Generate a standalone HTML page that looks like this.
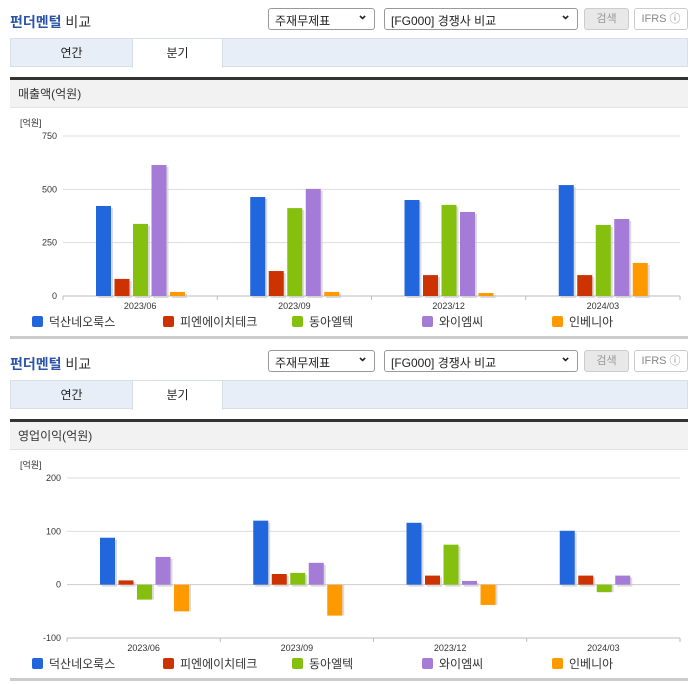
<!DOCTYPE html>
<html><head><meta charset="utf-8">
<style>
*{margin:0;padding:0;box-sizing:border-box}
body{width:696px;height:684px;background:#fff;font-family:"Liberation Sans","Noto Sans CJK KR",sans-serif;position:relative;overflow:hidden}
.abs{position:absolute}
.title{left:10px;font-size:14px;font-weight:bold;color:#2b54a7}
.title span{color:#333;font-weight:normal}
.sel{height:22px;border:1px solid #999;border-radius:3px;font-size:12px;color:#222;padding:3px 6px;background:#fff}
.sel:after{content:"⌄";position:absolute;right:6px;top:-2px;font-weight:bold;font-size:13px}
.btn{height:22px;border:1px solid #ccc;border-radius:3px;font-size:11px;color:#999;text-align:center;line-height:20px}
.tabs{left:10px;width:678px;height:29px;background:#e8eef7;border:1px solid #d8dfe9}
.tab{position:absolute;top:0;height:28px;font-size:12px;line-height:28px;text-align:center;color:#222}
.sec{left:10px;width:678px;height:31px;background:#f2f2f2;border-top:3px solid #333;font-size:12px;line-height:28px;padding-left:8px;color:#333;border-bottom:1px solid #e2e2e2}
.leg{font-size:12px;color:#333}
.leg i{display:inline-block;width:11px;height:11px;border-radius:2px;vertical-align:-1px;margin-right:6px}
.div{left:10px;width:678px;height:3px;background:#ccc}
</style></head><body>
<div id="root"></div>
<script>
const categories=["2023/06","2023/09","2023/12","2024/03"];
const seriesNames=["덕산네오룩스","피엔에이치테크","동아엘텍","와이엠씨","인베니아"];
const colors=["#2166dc","#cc3300","#86c00f","#a57bd8","#ff9900"];
const salesBlue=[422,464,450,520];
const salesRed=[80,117,98,98];
const salesGreen=[338,412,427,333];
const salesPurple=[614,502,394,361];
const salesOrange=[19,19,14,155];
const salesTicks=[0,250,500,750];
const opBlue=[88,120,116,101];
const opRed=[8,20,17,17];
const opGreen=[-28,22,75,-14];
const opPurple=[52,41,7,17];
const opOrange=[-50,-58,-38,0];
const opTicks=[-100,0,100,200];

const root=document.getElementById('root');
function block(off,secTitle,series,ticks,yTop,yBot,x0){
  let h='';
  h+=`<div class="abs title" style="top:${off+12}px">펀더멘털 <span>비교</span></div>`;
  h+=`<div class="abs sel" style="top:${off+8}px;left:268px;width:107px">주재무제표</div>`;
  h+=`<div class="abs sel" style="top:${off+8}px;left:384px;width:194px">[FG000] 경쟁사 비교</div>`;
  h+=`<div class="abs btn" style="top:${off+8}px;left:584px;width:45px;background:#e8e8e8">검색</div>`;
  h+=`<div class="abs btn" style="top:${off+8}px;left:634px;width:54px;color:#888">IFRS ⓘ</div>`;
  h+=`<div class="abs tabs" style="top:${off+38}px"><div class="tab" style="left:0;width:121px">연간</div><div class="tab" style="left:121px;width:91px;background:#fff;height:29px;border-left:1px solid #d8dfe9;border-right:1px solid #d8dfe9">분기</div></div>`;
  h+=`<div class="abs sec" style="top:${off+77}px">${secTitle}</div>`;
  // chart svg
  const min=ticks[0],max=ticks[ticks.length-1];
  const y=v=>yBot-(v-min)/(max-min)*(yBot-yTop);
  const x1=680,cw=(x1-x0)/categories.length;
  let s=`<svg class="abs" style="left:0;top:0" width="696" height="684" viewBox="0 0 696 684">`;
  s+=`<text x="20" y="${yTop-10}" font-size="9" fill="#333">[억원]</text>`;
  ticks.forEach(t=>{s+=`<line x1="${x0}" x2="${x1}" y1="${y(t)}" y2="${y(t)}" stroke="${t===0&&min<0?'#ccc':'#ddd'}"/><text x="${x0-6}" y="${y(t)+3}" font-size="9" text-anchor="end" fill="#333">${t}</text>`;});
  s+=`<line x1="${x0}" x2="${x1}" y1="${yBot}" y2="${yBot}" stroke="#bbb"/>`;
  categories.forEach((c,i)=>{const cx=x0+cw*i;s+=`<line x1="${cx}" x2="${cx}" y1="${yBot}" y2="${yBot+4}" stroke="#bbb"/><text x="${cx+cw/2}" y="${yBot+13}" font-size="9" text-anchor="middle" fill="#333">${c}</text>`;});
  s+=`<line x1="${x1}" x2="${x1}" y1="${yBot}" y2="${yBot+4}" stroke="#bbb"/>`;
  const z=y(Math.max(0,min));
  series.forEach((arr,si)=>arr.forEach((v,i)=>{
    const bx=x0+cw*i+33+si*18.5, by=Math.min(y(v),z), bh=Math.abs(y(v)-z);
    s+=`<rect x="${bx+2}" y="${by+(v<0?0:2)}" width="15" height="${bh}" fill="#ccc" opacity="0.7"/><rect x="${bx}" y="${by}" width="15" height="${bh}" fill="${colors[si]}"/>`;
  }));
  s+=`</svg>`;
  h+=s;
  const lx=[32,163,292,422,552];
  seriesNames.forEach((n,i)=>{h+=`<div class="abs leg" style="top:${yBot+17}px;left:${lx[i]}px"><i style="background:${colors[i]}"></i>${n}</div>`;});
  h+=`<div class="abs div" style="top:${yBot+40}px"></div>`;
  return h;
}
root.innerHTML=block(0,"매출액(억원)",[salesBlue,salesRed,salesGreen,salesPurple,salesOrange],salesTicks,136,296,63)
 +block(342,"영업이익(억원)",[opBlue,opRed,opGreen,opPurple,opOrange],opTicks,478,638,67);
</script>
</body></html>
